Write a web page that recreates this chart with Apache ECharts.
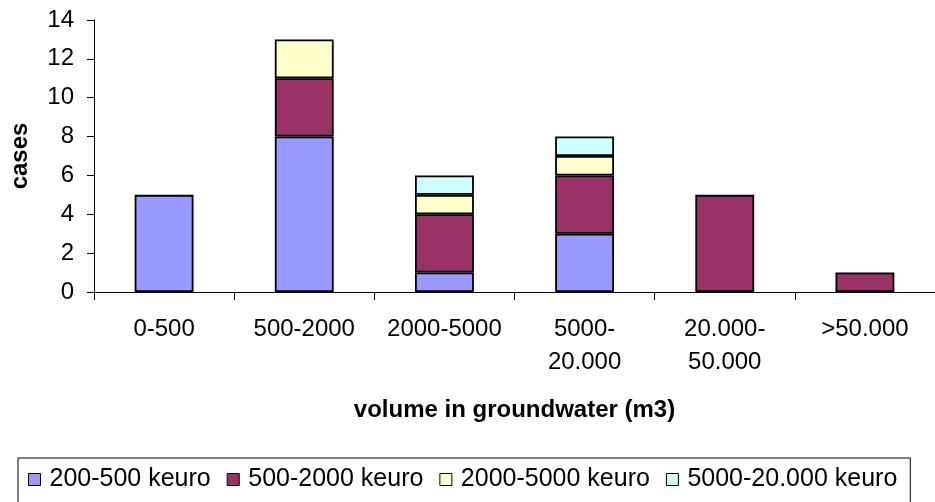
<!DOCTYPE html>
<html>
<head>
<meta charset="utf-8">
<style>
  html, body { margin: 0; padding: 0; background: #fff; }
  #chart { width: 935px; height: 502px; }
</style>
<script src="https://cdn.jsdelivr.net/npm/echarts@6/dist/echarts.min.js"></script>
</head>
<body>
<div id="chart"></div>
<script>
// Volume classes (x axis), with line breaks where the label wraps
const categories = ['0-500', '500-2000', '2000-5000', '5000-\n20.000', '20.000-\n50.000', '>50.000'];

// Number of cases per cost class
const cost200to500 = [5, 8, 1, 3, 0, 0];
const cost500to2000 = [0, 3, 3, 3, 5, 1];
const cost2000to5000 = [0, 2, 1, 1, 0, 0];
const cost5000to20000 = [0, 0, 1, 1, 0, 0];

const seriesNames = ['200-500 keuro', '500-2000 keuro', '2000-5000 keuro', '5000-20.000 keuro'];
const seriesColors = ['#9999FF', '#993366', '#FFFFCC', '#CCFFFF'];
const yTicks = { min: 0, max: 14, interval: 2 };

const FONT = '"Liberation Sans", Arial, sans-serif';

const chart = echarts.init(document.getElementById('chart'), null, { renderer: 'canvas' });

const allValues = [cost200to500, cost500to2000, cost2000to5000, cost5000to20000];

const series = allValues.map((vals, i) => ({
  name: seriesNames[i],
  type: 'bar',
  stack: 'cases',
  barWidth: '42%',
  // empty segments are left out so they draw no border
  data: vals.map(v => (v === 0 ? '-' : v)),
  itemStyle: {
    color: seriesColors[i],
    borderColor: '#000',
    borderWidth: 1.8
  },
  emphasis: { disabled: true }
}));

chart.setOption({
  animation: false,
  backgroundColor: '#fff',
  textStyle: { fontFamily: FONT, color: '#000' },
  grid: { left: 92, right: 0, top: 20, bottom: 210, containLabel: false },
  legend: {
    data: seriesNames,
    left: 18,
    top: 458,
    orient: 'horizontal',
    padding: [9, 13, 30, 10],
    itemGap: 16,
    itemWidth: 12,
    itemHeight: 12,
    borderColor: '#000',
    borderWidth: 1,
    icon: 'rect',
    selectedMode: false,
    itemStyle: { borderColor: '#000', borderWidth: 1 },
    textStyle: { fontFamily: FONT, fontSize: 25, color: '#000', padding: [0, 0, 0, 4] }
  },
  xAxis: {
    type: 'category',
    data: categories,
    name: 'volume in groundwater (m3)',
    nameLocation: 'middle',
    nameGap: 106,
    nameTextStyle: { fontFamily: FONT, fontSize: 24, fontWeight: 'bold', color: '#000' },
    axisLine: { show: true, lineStyle: { color: '#000', width: 1 } },
    axisTick: { show: true, alignWithLabel: false, length: 8, lineStyle: { color: '#000' } },
    axisLabel: {
      interval: 0,
      margin: 21,
      fontFamily: FONT,
      fontSize: 24,
      lineHeight: 33,
      color: '#000'
    },
    splitLine: { show: false }
  },
  yAxis: {
    type: 'value',
    min: yTicks.min,
    max: yTicks.max,
    interval: yTicks.interval,
    name: 'cases',
    nameLocation: 'middle',
    nameRotate: 90,
    nameGap: 62,
    nameTextStyle: { fontFamily: FONT, fontSize: 24, fontWeight: 'bold', color: '#000' },
    axisLine: { show: true, lineStyle: { color: '#000', width: 1 } },
    axisTick: { show: true, length: 7, lineStyle: { color: '#000' } },
    axisLabel: { margin: 20, fontFamily: FONT, fontSize: 24, color: '#000' },
    splitLine: { show: false }
  },
  series: series
});
</script>
</body>
</html>
